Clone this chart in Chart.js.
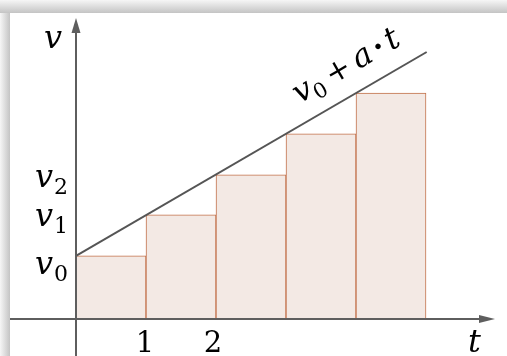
<!DOCTYPE html>
<html>
<head>
<meta charset="utf-8">
<script src="https://cdn.jsdelivr.net/npm/chart.js@4/dist/chart.umd.min.js"></script>
<style>
html,body{margin:0;padding:0;background:#fff;}
#wrap{position:relative;width:507px;height:356px;}
</style>
</head>
<body>
<div id="wrap"><canvas id="c" width="507" height="356"></canvas></div>
<script>
// ---- data ----
const barCenters = [0.5, 1.5, 2.5, 3.5, 4.5];        // t (middle of each interval)
const barValues  = [1.55, 2.56, 3.54, 4.55, 5.55];    // v at start of each interval
const lineT      = [0, 5.01];
const lineV      = [1.55, 6.56];                      // v0 + a·t
const xTickValues = [1, 2];
const xTickLabels = ['1', '2'];
const yTickValues = [1.55, 2.56, 3.54];
const yTickSubs   = ['0', '1', '2'];

const SERIF = '"DejaVu Serif", "Liberation Serif", serif';

const framePlugin = {
  id: 'frame',
  beforeDraw(chart) {
    const ctx = chart.ctx, W = chart.width, H = chart.height;
    const L = 10, T = 13;
    ctx.save();
    ctx.fillStyle = '#fff';
    ctx.fillRect(0, 0, W, H);
    let g = ctx.createLinearGradient(0, 0, 0, T);
    g.addColorStop(0, '#f6f6f6'); g.addColorStop(1, '#c4c4c4');
    ctx.fillStyle = g; ctx.fillRect(0, 0, W, T);
    g = ctx.createLinearGradient(0, 0, L, 0);
    g.addColorStop(0, '#f6f6f6'); g.addColorStop(1, '#c4c4c4');
    ctx.fillStyle = g; ctx.fillRect(0, T, L, H - T);
    ctx.fillStyle = '#fff';
    ctx.fillRect(L, T, W - L, H - T);
    ctx.restore();
  },
  afterDatasetsDraw(chart) {
    const ctx = chart.ctx, xs = chart.scales.x, ys = chart.scales.y;
    const x0 = xs.getPixelForValue(0), y0 = ys.getPixelForValue(0);
    ctx.save();
    ctx.strokeStyle = '#5e5e5e';
    ctx.fillStyle = '#5e5e5e';
    ctx.lineWidth = 2;
    const xEnd = 495;
    ctx.beginPath(); ctx.moveTo(10, y0); ctx.lineTo(xEnd - 12, y0); ctx.stroke();
    ctx.beginPath(); ctx.moveTo(xEnd, y0); ctx.lineTo(xEnd - 16, y0 - 4); ctx.lineTo(xEnd - 16, y0 + 4); ctx.closePath(); ctx.fill();
    const yTop = 18;
    ctx.beginPath(); ctx.moveTo(x0, chart.height); ctx.lineTo(x0, yTop + 10); ctx.stroke();
    ctx.beginPath(); ctx.moveTo(x0, yTop); ctx.lineTo(x0 - 4.5, yTop + 15); ctx.lineTo(x0 + 4.5, yTop + 15); ctx.closePath(); ctx.fill();
    ctx.restore();
  },
  afterDraw(chart) {
    const ctx = chart.ctx, xs = chart.scales.x, ys = chart.scales.y;
    ctx.save();
    ctx.fillStyle = '#000';
    ctx.textBaseline = 'alphabetic';
    ctx.font = '29px ' + SERIF;
    ctx.textAlign = 'center';
    xTickValues.forEach((v, i) => {
      ctx.fillText(xTickLabels[i], xs.getPixelForValue(v) - (i === 1 ? 3 : 1), 352);
    });
    ctx.font = 'italic 32px ' + SERIF;
    ctx.textAlign = 'left';
    ctx.fillText('v', 44, 48);
    ctx.fillText('t', 468, 352);
    const yOff = [10, 3, 4];
    yTickValues.forEach((v, i) => {
      const py = ys.getPixelForValue(v) + yOff[i];
      ctx.font = 'italic 32px ' + SERIF;
      ctx.fillText('v', 35, py + 8);
      ctx.font = '22px ' + SERIF;
      ctx.fillText(yTickSubs[i], 54, py + 15);
    });
    const pA = [xs.getPixelForValue(lineT[0]), ys.getPixelForValue(lineV[0])];
    const pB = [xs.getPixelForValue(lineT[1]), ys.getPixelForValue(lineV[1])];
    const ang = Math.atan2(pB[1] - pA[1], pB[0] - pA[0]);
    const ts = 3.33;
    const px = xs.getPixelForValue(ts);
    const py = ys.getPixelForValue(lineV[0] + (lineV[1] - lineV[0]) * (ts - lineT[0]) / (lineT[1] - lineT[0]));
    ctx.translate(px, py);
    ctx.rotate(ang);
    let cx = 0; const by = -19;
    ctx.font = 'italic 32px ' + SERIF;
    ctx.fillText('v', cx, by); cx += ctx.measureText('v').width;
    ctx.font = '21px ' + SERIF;
    ctx.fillText('0', cx, by + 6); cx += ctx.measureText('0').width + 6;
    ctx.font = '30px ' + SERIF;
    ctx.fillText('+', cx, by); cx += ctx.measureText('+').width + 6;
    ctx.font = 'italic 32px ' + SERIF;
    ctx.fillText('a', cx, by); cx += ctx.measureText('a').width + 4;
    ctx.font = 'bold 30px ' + SERIF;
    ctx.fillText('·', cx, by); cx += ctx.measureText('·').width + 4;
    ctx.font = 'italic 32px ' + SERIF;
    ctx.fillText('t', cx, by);
    ctx.restore();
  }
};

function build() {
  new Chart(document.getElementById('c'), {
    type: 'bar',
    data: {
      datasets: [
        {
          type: 'line',
          data: lineT.map((t, i) => ({ x: t, y: lineV[i] })),
          borderColor: '#555555',
          borderWidth: 2,
          pointRadius: 0,
          order: 0
        },
        {
          type: 'bar',
          data: barCenters.map((t, i) => ({ x: t, y: barValues[i] })),
          backgroundColor: '#f3e9e4',
          borderColor: '#c2704a',
          borderWidth: 1,
          borderSkipped: 'start',
          barPercentage: 1,
          categoryPercentage: 1,
          order: 1
        }
      ]
    },
    options: {
      responsive: false,
      animation: false,
      layout: { padding: 0 },
      plugins: { legend: { display: false }, tooltip: { enabled: false } },
      scales: {
        x: { type: 'linear', offset: false, min: -76 / 70, max: 431 / 70, display: false },
        y: { type: 'linear', min: -37 / 40.7, max: 319 / 40.7, display: false }
      }
    },
    plugins: [framePlugin]
  });
}
Promise.all([
  document.fonts.load('italic 32px "DejaVu Serif"'),
  document.fonts.load('28px "DejaVu Serif"')
]).then(build, build);
</script>
</body>
</html>
